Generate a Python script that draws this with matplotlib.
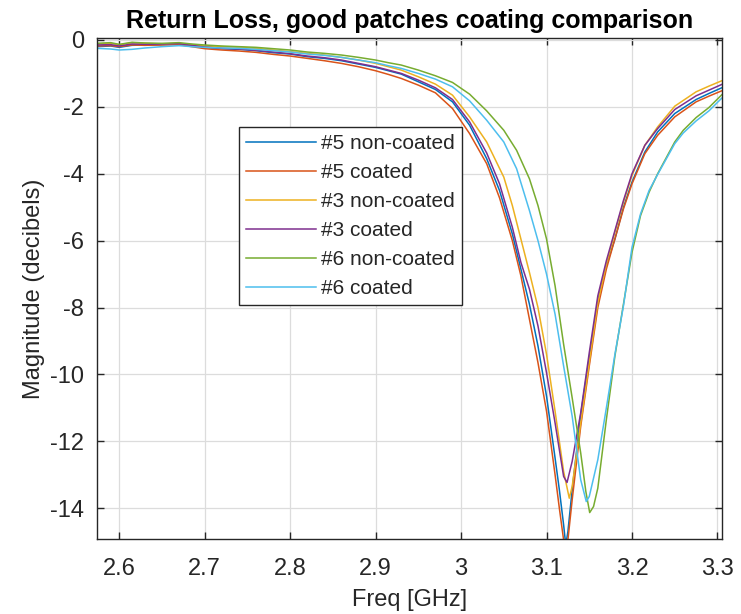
import matplotlib
matplotlib.use("Agg")
import matplotlib.pyplot as plt

plt.rcParams['font.family'] = ['Liberation Sans', 'DejaVu Sans']

# ---------------- data ----------------
f_low = [2.5737, 2.59, 2.60, 2.615, 2.63, 2.65, 2.67, 2.685, 2.70, 2.72, 2.74,
         2.76, 2.78, 2.80, 2.82, 2.84, 2.86, 2.88, 2.90, 2.915, 2.93]

# #5 non-coated
f5n = f_low + [2.95, 2.97, 2.99, 3.01, 3.03, 3.045, 3.06, 3.07, 3.08, 3.09, 3.10, 3.11,
               3.115, 3.12, 3.1225, 3.125, 3.13, 3.14, 3.15, 3.16, 3.17, 3.18, 3.19,
               3.20, 3.215, 3.23, 3.25, 3.275, 3.29, 3.305]
s5n = [-0.20, -0.18, -0.22, -0.16, -0.15, -0.14, -0.12, -0.17, -0.22, -0.26, -0.28,
       -0.32, -0.38, -0.42, -0.50, -0.55, -0.62, -0.72, -0.82, -0.92, -1.02,
       -1.25, -1.48, -1.85, -2.55, -3.55, -4.50, -5.80, -6.85, -7.90, -9.15, -10.65, -12.50,
       -13.45, -14.50, -15.10, -14.70, -13.45, -11.20, -9.50, -7.80, -6.75, -5.95, -5.00,
       -4.25, -3.35, -2.75, -2.20, -1.78, -1.60, -1.43]

# #5 coated
f5c = f_low + [2.95, 2.97, 2.99, 3.01, 3.03, 3.045, 3.06, 3.07, 3.08, 3.09, 3.10, 3.11,
               3.115, 3.12, 3.1225, 3.125, 3.13, 3.14, 3.15, 3.16, 3.17, 3.18, 3.19,
               3.20, 3.215, 3.23, 3.25, 3.275, 3.29, 3.305]
s5c = [-0.18, -0.17, -0.20, -0.15, -0.16, -0.15, -0.14, -0.20, -0.26, -0.30, -0.33,
       -0.37, -0.43, -0.48, -0.55, -0.62, -0.70, -0.80, -0.92, -1.03, -1.15,
       -1.35, -1.58, -2.05, -2.80, -3.70, -4.72, -6.00, -7.05, -8.35, -9.65, -11.10, -13.00,
       -14.00, -14.95, -15.25, -14.95, -13.75, -11.55, -9.75, -8.00, -6.85, -5.95, -5.05,
       -4.30, -3.40, -2.85, -2.30, -1.85, -1.68, -1.52]

# #3 non-coated
f3n = f_low + [2.95, 2.97, 2.99, 3.01, 3.03, 3.05, 3.06, 3.07, 3.08, 3.09, 3.10, 3.11,
               3.12, 3.1266, 3.13, 3.14, 3.15, 3.16, 3.17, 3.18, 3.19, 3.20, 3.215,
               3.23, 3.25, 3.275, 3.29, 3.305]
s3n = [-0.12, -0.10, -0.15, -0.08, -0.10, -0.12, -0.10, -0.14, -0.18, -0.20, -0.22,
       -0.25, -0.30, -0.35, -0.40, -0.45, -0.52, -0.60, -0.70, -0.80, -0.90,
       -1.10, -1.32, -1.65, -2.30, -3.05, -4.10, -4.95, -5.95, -6.95, -8.00, -9.40, -11.10,
       -12.90, -13.70, -13.35, -11.45, -9.65, -7.85, -6.70, -5.75, -4.85, -4.05, -3.15,
       -2.60, -1.98, -1.55, -1.38, -1.22]

# #3 coated
f3c = f_low + [2.95, 2.97, 2.99, 3.01, 3.03, 3.045, 3.06, 3.07, 3.08, 3.09, 3.10, 3.11,
               3.12, 3.124, 3.13, 3.14, 3.15, 3.16, 3.17, 3.18, 3.19, 3.20, 3.215,
               3.23, 3.25, 3.275, 3.29, 3.305]
s3c = [-0.15, -0.14, -0.18, -0.12, -0.13, -0.12, -0.11, -0.16, -0.21, -0.25, -0.27,
       -0.31, -0.36, -0.41, -0.48, -0.53, -0.60, -0.70, -0.80, -0.90, -1.00,
       -1.20, -1.43, -1.78, -2.45, -3.38, -4.30, -5.60, -6.65, -7.45, -8.55, -9.95, -11.45,
       -13.05, -13.23, -12.60, -11.15, -9.35, -7.65, -6.60, -5.70, -4.80, -4.00, -3.15,
       -2.65, -2.08, -1.67, -1.50, -1.33]

# #6 non-coated
f6n = f_low + [2.95, 2.97, 2.99, 3.01, 3.03, 3.05, 3.065, 3.08, 3.09, 3.10, 3.11, 3.12,
               3.13, 3.14, 3.146, 3.1505, 3.155, 3.16, 3.17, 3.18, 3.19, 3.20, 3.21,
               3.22, 3.23, 3.25, 3.26, 3.275, 3.29, 3.305]
s6n = [-0.10, -0.08, -0.13, -0.07, -0.09, -0.10, -0.08, -0.12, -0.15, -0.18, -0.20,
       -0.22, -0.26, -0.30, -0.36, -0.40, -0.45, -0.52, -0.60, -0.68, -0.75,
       -0.90, -1.07, -1.27, -1.62, -2.12, -2.70, -3.30, -4.15, -4.95, -5.95, -7.35, -9.10,
       -10.70, -12.35, -13.50, -14.13, -13.95, -13.40, -11.35, -9.45, -7.90, -6.35, -5.25,
       -4.55, -4.00, -3.05, -2.70, -2.32, -2.02, -1.64]

# #6 coated
f6c = f_low + [2.95, 2.97, 2.99, 3.01, 3.03, 3.05, 3.065, 3.08, 3.09, 3.10, 3.11, 3.12,
               3.13, 3.14, 3.1465, 3.15, 3.16, 3.17, 3.18, 3.19, 3.20, 3.21, 3.22,
               3.23, 3.25, 3.26, 3.275, 3.29, 3.305]
s6c = [-0.25, -0.27, -0.30, -0.28, -0.24, -0.20, -0.17, -0.20, -0.22, -0.24, -0.25,
       -0.28, -0.32, -0.36, -0.42, -0.46, -0.52, -0.60, -0.68, -0.77, -0.85,
       -1.00, -1.17, -1.40, -1.82, -2.40, -3.05, -3.85, -5.10, -6.00, -7.00, -8.20, -9.75,
       -11.25, -13.15, -13.80, -13.65, -12.55, -11.00, -9.40, -7.95, -6.20, -5.20, -4.50,
       -4.02, -3.10, -2.78, -2.42, -2.12, -1.74]

labels = ['#5 non-coated', '#5 coated', '#3 non-coated', '#3 coated',
          '#6 non-coated', '#6 coated']
colors = ['#0072BD', '#D95319', '#EDB120', '#7E2F8E', '#77AC30', '#4DBEEE']
series = [(f5n, s5n), (f5c, s5c), (f3n, s3n), (f3c, s3c), (f6n, s6n), (f6c, s6c)]

xticks = [2.6, 2.7, 2.8, 2.9, 3.0, 3.1, 3.2, 3.3]
xticklabels = ['2.6', '2.7', '2.8', '2.9', '3', '3.1', '3.2', '3.3']
yticks = [0, -2, -4, -6, -8, -10, -12, -14]
yticklabels = ['0', '-2', '-4', '-6', '-8', '-10', '-12', '-14']

# ---------------- figure ----------------
fig = plt.figure(figsize=(7.41, 6.14), dpi=100)
ax = fig.add_axes([96.7 / 741, 1 - 539 / 614, (722 - 96.7) / 741, (539 - 38.3) / 614])

for (f, s), lab, c in zip(series, labels, colors):
    ax.plot(f, s, color=c, lw=1.1, label=lab)

ax.set_xlim(2.5737, 3.3053)
ax.set_ylim(-14.92, 0.05)
ax.set_xticks(xticks)
ax.set_xticklabels(xticklabels)
ax.set_yticks(yticks)
ax.set_yticklabels(yticklabels)

dark = '#262626'
ax.grid(True, color='#dcdcdc', lw=0.9)
ax.set_axisbelow(True)
for sp in ax.spines.values():
    sp.set_color(dark)
    sp.set_linewidth(1.0)
ax.tick_params(direction='in', length=5, width=1.0, colors=dark, labelsize=17,
               top=True, right=True)
ax.tick_params(axis='x', pad=14)
ax.tick_params(axis='y', pad=9)

ax.set_title('Return Loss, good patches coating comparison', fontsize=18,
             fontweight='bold', color='black', pad=7.5)
ax.set_xlabel('Freq [GHz]', fontsize=17, color=dark, labelpad=6)
ax.set_ylabel('Magnitude (decibels)', fontsize=17, color=dark, labelpad=4)

leg = ax.legend(loc='upper left', bbox_to_anchor=(239 / 741, 1 - 127.3 / 614),
                bbox_transform=fig.transFigure, borderaxespad=0,
                fontsize=15, frameon=True, fancybox=False, framealpha=1,
                handlelength=3.35, handletextpad=0.25, labelspacing=0.48,
                borderpad=0.33)
leg.get_frame().set_edgecolor(dark)
leg.get_frame().set_linewidth(1.0)
for t in leg.get_texts():
    t.set_color(dark)

fig.savefig('out.png', dpi=100)
